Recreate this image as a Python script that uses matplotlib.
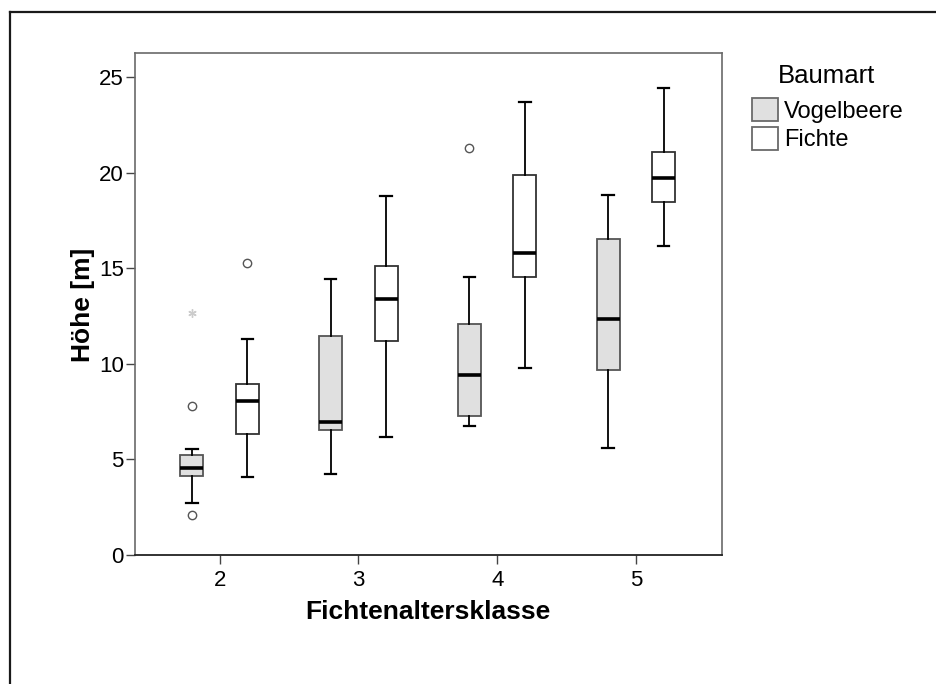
import matplotlib
matplotlib.use("Agg")
import matplotlib.pyplot as plt
from matplotlib.patches import Patch
from matplotlib.lines import Line2D

plt.rcParams['font.family'] = ['Liberation Sans', 'DejaVu Sans']

# ---- data ----
classes = [2, 3, 4, 5]
class_labels = ["2", "3", "4", "5"]

vogel_wlo = [2.70, 4.25, 6.75, 5.58]
vogel_q1 = [4.13, 6.55, 7.25, 9.66]
vogel_med = [4.55, 6.96, 9.41, 12.33]
vogel_q3 = [5.23, 11.47, 12.07, 16.53]
vogel_whi = [5.56, 14.42, 14.56, 18.81]
vogel_out = [[7.81, 2.11], [], [21.27], []]
vogel_extreme = [[12.64], [], [], []]

fichte_wlo = [4.06, 6.19, 9.76, 16.16]
fichte_q1 = [6.35, 11.21, 14.56, 18.45]
fichte_med = [8.07, 13.37, 15.78, 19.73]
fichte_q3 = [8.96, 15.12, 19.87, 21.06]
fichte_whi = [11.28, 18.78, 23.68, 24.44]
fichte_out = [[15.29], [], [], []]
fichte_extreme = [[], [], [], []]

series_names = ["Vogelbeere", "Fichte"]
legend_title = "Baumart"
x_label = "Fichtenaltersklasse"
y_label = "Höhe [m]"
y_ticks = [0, 5, 10, 15, 20, 25]

# ---- figure ----
W, H = 936, 684
fig = plt.figure(figsize=(W / 100, H / 100), dpi=100)
ax = fig.add_axes([135 / W, 1 - 555 / H, (722 - 135) / W, (555 - 53) / H])

offset = 0.2
bw = 0.165
series = [
    dict(wlo=vogel_wlo, q1=vogel_q1, med=vogel_med, q3=vogel_q3, whi=vogel_whi,
         out=vogel_out, ext=vogel_extreme, face="#e0e0e0", edge="#555555", off=-offset),
    dict(wlo=fichte_wlo, q1=fichte_q1, med=fichte_med, q3=fichte_q3, whi=fichte_whi,
         out=fichte_out, ext=fichte_extreme, face="white", edge="#333333", off=offset),
]

for s in series:
    stats = []
    for i in range(len(classes)):
        stats.append(dict(whislo=s["wlo"][i], q1=s["q1"][i], med=s["med"][i],
                          q3=s["q3"][i], whishi=s["whi"][i], fliers=s["out"][i]))
    pos = [c + s["off"] for c in classes]
    ax.bxp(stats, positions=pos, widths=bw, patch_artist=True, showfliers=True,
           boxprops=dict(facecolor=s["face"], edgecolor=s["edge"], linewidth=1.3),
           medianprops=dict(color="black", linewidth=2.6, solid_capstyle="butt"),
           whiskerprops=dict(color="black", linewidth=1.3),
           capprops=dict(color="black", linewidth=1.6),
           capwidths=bw * 0.5,
           flierprops=dict(marker="o", markersize=6, markerfacecolor="white",
                           markeredgecolor="#555555", markeredgewidth=1.0),
           manage_ticks=False, zorder=2)
    for i, c in enumerate(classes):
        if s["ext"][i]:
            ax.plot([c + s["off"]] * len(s["ext"][i]), s["ext"][i], linestyle="none",
                    marker=(6, 2, 0), markersize=6, color="#cccccc",
                    markeredgewidth=1.0, zorder=3)

ax.set_xlim(1.39, 5.62)
ax.set_ylim(0, 26.25)
ax.set_xticks(classes)
ax.set_xticklabels(class_labels)
ax.set_yticks(y_ticks)
ax.set_yticklabels([str(t) for t in y_ticks])
ax.tick_params(axis="both", direction="out", length=6.5, width=1.0, color="#444444",
               labelsize=16, pad=1.5)
ax.tick_params(axis="x", pad=4)

for side in ["top", "right", "left"]:
    ax.spines[side].set_color("#6a6a6a")
    ax.spines[side].set_linewidth(1.2)
ax.spines["bottom"].set_color("#222222")
ax.spines["bottom"].set_linewidth(1.3)

fig.text(428 / W, 1 - 612 / H, x_label, fontsize=19, fontweight="bold",
         ha="center", va="center")
fig.text(83 / W, 1 - 305 / H, y_label, fontsize=19, fontweight="bold",
         ha="center", va="center", rotation=90)

# legend title and entries
fig.text(827 / W, 1 - 76 / H, legend_title, fontsize=18.5, ha="center", va="center")
handles = [Patch(facecolor="#e0e0e0", edgecolor="#6a6a6a", linewidth=1.3),
           Patch(facecolor="white", edgecolor="#6a6a6a", linewidth=1.3)]
leg = fig.legend(handles, series_names, loc="upper left",
                 bbox_to_anchor=(752 / W, 1 - 98 / H), frameon=False,
                 fontsize=17, handlelength=1.12,
                 handleheight=1.12, handletextpad=0.22, labelspacing=0.18,
                 borderaxespad=0, borderpad=0)

# outer frame (top and left edges visible)
fig.add_artist(Line2D([9.5 / W, 1.0], [1 - 11.5 / H, 1 - 11.5 / H], color="#1a1a1a",
                      linewidth=1.6, transform=fig.transFigure))
fig.add_artist(Line2D([9.5 / W, 9.5 / W], [1 - 11.5 / H, 0.0], color="#1a1a1a",
                      linewidth=1.6, transform=fig.transFigure))

fig.savefig("out.png", dpi=100, facecolor="white")
